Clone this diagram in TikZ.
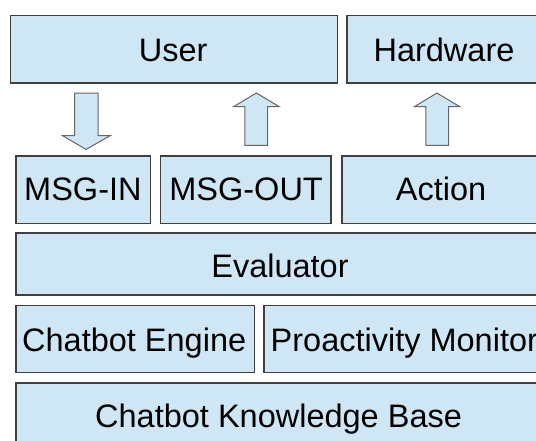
\documentclass[tikz,border=0pt]{standalone}
\usepackage{fontspec}
\setmainfont{Liberation Sans}
\definecolor{boxfill}{HTML}{CFE7F5}
\definecolor{boxline}{HTML}{404040}
\begin{document}
\begin{tikzpicture}[x=1pt,y=-1pt,
  box/.style={draw=boxline,fill=boxfill,line width=1.4pt},
  blockarrow/.style={draw=boxline!80,fill=boxfill,line width=1pt,line join=miter},
  lbl/.style={anchor=base,inner sep=0pt,font=\fontsize{32.5}{36}\selectfont,text=black}]
\useasboundingbox (0,0) rectangle (536,440);
\clip (0,0) rectangle (536,440);
% row 1
\draw[box] (10.3,15.7) rectangle (337.4,83.1);
\draw[box] (347,15.7) rectangle (570,83.1);
\node[lbl] (user) at (173.1,61.5) {User};
\node[lbl] (hw) at (444,61.5) {Hardware};
% arrows
\draw[blockarrow] (74.5,93) -- (98.1,93) -- (98.1,135.7) -- (110.1,135.7) -- (86.1,149.4) -- (62.6,135.7) -- (74.5,135.7) -- cycle;
\draw[blockarrow] (256.4,93) -- (279.3,106.7) -- (267.7,106.7) -- (267.7,145.3) -- (244.8,145.3) -- (244.8,106.7) -- (233.5,106.7) -- cycle;
\draw[blockarrow] (436.9,93) -- (459.8,106.7) -- (448.5,106.7) -- (448.5,145.3) -- (425.9,145.3) -- (425.9,106.7) -- (414.3,106.7) -- cycle;
% row 2
\draw[box] (16.1,156.1) rectangle (150.7,223.4);
\draw[box] (160.3,156.1) rectangle (330.9,223.4);
\draw[box] (341.8,156.1) rectangle (570,223.4);
\node[lbl] (msgin) at (82.9,200.8) {MSG-IN};
\node[lbl] (msgout) at (246.1,200.8) {MSG-OUT};
\node[lbl] (action) at (441,200.8) {Action};
% row 3
\draw[box] (16.1,233) rectangle (570,295.1);
\node[lbl] (eval) at (280,277.4) {Evaluator};
% row 4
\draw[box] (16.1,305.7) rectangle (254.3,372.7);
\draw[box] (263.9,305.7) rectangle (570,372.7);
\node[lbl] (engine) at (134.2,351.5) {Chatbot Engine};
\node[lbl,anchor=base west] (pro) at (270.5,351.5) {Proactivity Monitor};
% row 5
\draw[box] (16.1,383) rectangle (570,470);
\node[lbl] (kb) at (278.6,427.4) {Chatbot Knowledge Base};
\end{tikzpicture}
\end{document}
